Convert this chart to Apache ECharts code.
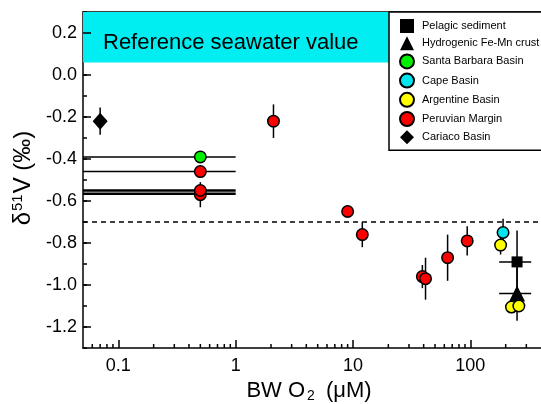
<!DOCTYPE html>
<html>
<head>
<meta charset="utf-8">
<script src="https://cdn.jsdelivr.net/npm/echarts@6/dist/echarts.min.js"></script>
<style>
html, body { margin: 0; padding: 0; background: #fff; }
#main { width: 541px; height: 404px; }
</style>
</head>
<body>
<div id="main"></div>
<script>
// x = bottom water O2 (uM), y = d51V (permil), e = error (+/-)
var pelagicX = [250]
var pelagicY = [-0.89]
var pelagicE = [0.15]
var pelagicXLo = [176]
var pelagicXHi = [330]

var crustX = [250]
var crustY = [-1.04]
var crustE = [0.13]
var crustXLo = [176]
var crustXHi = [330]

var santaX = [0.5]
var santaY = [-0.39]
var santaE = [0]

var capeX = [190]
var capeY = [-0.75]
var capeE = [0.065]

var argX = [181, 224, 259]
var argY = [-0.81, -1.105, -1.10]
var argE = [0.045, 0.02, 0.02]

var peruX = [0.5, 0.5, 0.5, 2.1, 9, 12, 39, 41.5, 64, 94]
var peruY = [-0.57, -0.55, -0.46, -0.22, -0.65, -0.76, -0.96, -0.97, -0.87, -0.79]
var peruE = [0.06, 0.02, 0.02, 0.08, 0, 0.06, 0.055, 0.1, 0.11, 0.07]

var cariacoX = [0.07]
var cariacoY = [-0.22]
var cariacoE = [0.065]

// horizontal O2 ranges for the anoxic sites (lower end is 0, off the log axis)
var rangeY = [-0.39, -0.46, -0.55, -0.565]
var rangeLo = [0.01, 0.01, 0.01, 0.01]
var rangeHi = [1, 1, 1, 1]
var rangeW = [1.5, 1.5, 2.5, 2.5]

var seawaterLo = 0.06
var seawaterHi = 0.3
var dashedY = -0.7

var xMinorTicks = [0.06, 0.07, 0.08, 0.09, 0.2, 0.3, 0.4, 0.5, 0.6, 0.7, 0.8, 0.9,
  2, 3, 4, 5, 6, 7, 8, 9, 20, 30, 40, 50, 60, 70, 80, 90, 200, 300]
var yMajorTicks = [-1.2, -1.0, -0.8, -0.6, -0.4, -0.2, 0.0, 0.2]

var FONT = 'Liberation Sans, Arial, sans-serif'

function pts(xs, ys) {
  return xs.map(function (x, i) { return [x, ys[i]] })
}

// vertical error bars
var vErr = []
;[[pelagicX, pelagicY, pelagicE], [crustX, crustY, crustE], [santaX, santaY, santaE],
  [capeX, capeY, capeE], [argX, argY, argE], [peruX, peruY, peruE], [cariacoX, cariacoY, cariacoE]]
  .forEach(function (g) {
    g[0].forEach(function (x, i) {
      if (g[2][i] > 0) vErr.push([x, g[1][i], g[2][i]])
    })
  })

// horizontal bars
var hErr = []
pelagicX.forEach(function (x, i) { hErr.push([pelagicXLo[i], pelagicXHi[i], pelagicY[i], 1.5]) })
crustX.forEach(function (x, i) { hErr.push([crustXLo[i], crustXHi[i], crustY[i], 1.5]) })
rangeY.forEach(function (y, i) { hErr.push([rangeLo[i], rangeHi[i], y, rangeW[i]]) })

function scatter(name, data, symbol, size, color, border) {
  return {
    name: name,
    type: 'scatter',
    data: data,
    symbol: symbol,
    symbolSize: size,
    z: 4,
    itemStyle: { color: color, borderColor: '#000', borderWidth: border, opacity: 1 },
    emphasis: { disabled: true }
  }
}

var myChart = echarts.init(document.getElementById('main'))
var option = {
  animation: false,
  grid: {
    left: 83, top: 12, right: 0, bottom: 56,
    outerBoundsMode: 'none',
    containLabel: false
  },
  legend: {
    orient: 'vertical',
    left: 389, top: 12,
    data: ['Pelagic sediment', 'Hydrogenic Fe-Mn crust', 'Santa Barbara Basin',
      'Cape Basin', 'Argentine Basin', 'Peruvian Margin', 'Cariaco Basin'],
    itemWidth: 14, itemHeight: 14, itemGap: 3.2,
    padding: [7, 3, 6, 10],
    borderColor: '#000', borderWidth: 1.5,
    backgroundColor: '#fff',
    selectedMode: false,
    textStyle: { fontSize: 11, fontFamily: FONT, color: '#000', padding: [0, 0, 0, 3] }
  },
  xAxis: [{
    type: 'log',
    logBase: 10,
    min: 0.05,
    max: 400,
    name: 'BW O{sub|2} (μM)',
    nameLocation: 'middle',
    nameGap: 29,
    nameTextStyle: {
      fontSize: 22, fontFamily: FONT, color: '#000', padding: [0, 6, 0, 0],
      rich: { sub: { fontSize: 14, fontFamily: FONT, color: '#000', verticalAlign: 'bottom', padding: [10, 5, 0, 2] } }
    },
    axisLine: { onZero: false, lineStyle: { color: '#000', width: 1.5 } },
    axisTick: { inside: true, length: 8, lineStyle: { color: '#000', width: 1.5 } },
    axisLabel: {
      fontSize: 18, fontFamily: FONT, color: '#000', margin: 9,
      showMinLabel: false, showMaxLabel: false,
      formatter: function (v) {
        var p = Math.log10(v)
        if (Math.abs(p - Math.round(p)) > 1e-6) return ''
        return String(Math.pow(10, Math.round(p)).toPrecision(1) * 1)
      }
    },
    splitLine: { show: false }
  }, {
    // top frame line
    type: 'log',
    logBase: 10,
    min: 0.05,
    max: 400,
    position: 'top',
    axisLine: { onZero: false, lineStyle: { color: '#000', width: 1.5 } },
    axisTick: { show: false },
    axisLabel: { show: false },
    splitLine: { show: false }
  }],
  yAxis: {
    type: 'value',
    min: -1.3,
    max: 0.3,
    interval: 0.1,
    name: 'δ{sup|51}V (‰)',
    nameLocation: 'middle',
    nameGap: 37,
    nameTextStyle: {
      fontSize: 24, fontFamily: FONT, color: '#000', padding: [0, 0, 0, 4],
      rich: { sup: { fontSize: 15, fontFamily: FONT, color: '#000', verticalAlign: 'top', padding: [0, 1, 10, 1] } }
    },
    axisLine: { onZero: false, lineStyle: { color: '#000', width: 1.5 } },
    axisTick: { inside: true, length: 4, lineStyle: { color: '#000', width: 1.5 } },
    axisLabel: {
      fontSize: 18, fontFamily: FONT, color: '#000', margin: 6,
      formatter: function (v) {
        var k = Math.round(v * 10)
        if (k % 2 !== 0 || v < -1.25 || v > 0.25) return ''
        return Math.abs(v) < 1e-9 ? '0.0' : v.toFixed(1)
      }
    },
    splitLine: { show: false }
  },
  series: [
    {
      // seawater band + reference dashed line
      type: 'custom',
      silent: true,
      data: [],
      renderItem: function () { return null },
      markArea: {
        silent: true,
        itemStyle: { color: '#00eef2', opacity: 1 },
        label: {
          show: true, position: [20, 20], fontSize: 22, fontFamily: FONT, color: '#000'
        },
        data: [[{ yAxis: seawaterHi, name: 'Reference seawater value' }, { yAxis: seawaterLo }]]
      },
      markLine: {
        silent: true,
        symbol: 'none',
        label: { show: false },
        lineStyle: { color: '#000', width: 1.5, type: [5, 4] },
        data: [{ yAxis: dashedY }]
      },
      z: 1
    },
    {
      // minor ticks on log axis and major ticks on y axis
      type: 'custom',
      silent: true,
      clip: false,
      z: 5,
      data: xMinorTicks.map(function (v) { return [v, 0, 0] })
        .concat(yMajorTicks.map(function (v) { return [1, v, 1] })),
      encode: { x: 0, y: 1 },
      renderItem: function (params, api) {
        var cs = params.coordSys
        var p = api.coord([api.value(0), api.value(1)])
        var shape
        if (api.value(2) === 0) {
          var b = cs.y + cs.height
          shape = { x1: p[0], y1: b, x2: p[0], y2: b - 4 }
        } else {
          shape = { x1: cs.x, y1: p[1], x2: cs.x + 8, y2: p[1] }
        }
        return { type: 'line', shape: shape, style: { stroke: '#000', lineWidth: 1.5 } }
      }
    },
    {
      type: 'custom',
      silent: true,
      clip: true,
      z: 2,
      data: hErr,
      encode: { x: [0, 1], y: 2 },
      renderItem: function (params, api) {
        var a = api.coord([api.value(0), api.value(2)])
        var b = api.coord([api.value(1), api.value(2)])
        return {
          type: 'line',
          shape: { x1: a[0], y1: a[1], x2: b[0], y2: b[1] },
          style: { stroke: '#000', lineWidth: api.value(3) }
        }
      }
    },
    {
      type: 'custom',
      silent: true,
      clip: true,
      z: 3,
      data: vErr,
      encode: { x: 0, y: 1 },
      renderItem: function (params, api) {
        var x = api.value(0), y = api.value(1), e = api.value(2)
        var a = api.coord([x, y + e])
        var b = api.coord([x, y - e])
        return {
          type: 'line',
          shape: { x1: a[0], y1: a[1], x2: b[0], y2: b[1] },
          style: { stroke: '#000', lineWidth: 1.5 }
        }
      }
    },
    scatter('Pelagic sediment', pts(pelagicX, pelagicY), 'rect', 11, '#000', 0),
    scatter('Hydrogenic Fe-Mn crust', pts(crustX, crustY), 'triangle', 16, '#000', 0),
    scatter('Santa Barbara Basin', pts(santaX, santaY), 'circle', 11.5, '#00ee00', 1.5),
    scatter('Cape Basin', pts(capeX, capeY), 'circle', 11.5, '#00e5ee', 1.5),
    scatter('Argentine Basin', pts(argX, argY), 'circle', 11.5, '#ffff00', 1.5),
    scatter('Peruvian Margin', pts(peruX, peruY), 'circle', 11.5, '#ff0000', 1.5),
    scatter('Cariaco Basin', pts(cariacoX, cariacoY), 'diamond', [15, 17], '#000', 0)
  ]
}
option && myChart.setOption(option)
</script>
</body>
</html>
